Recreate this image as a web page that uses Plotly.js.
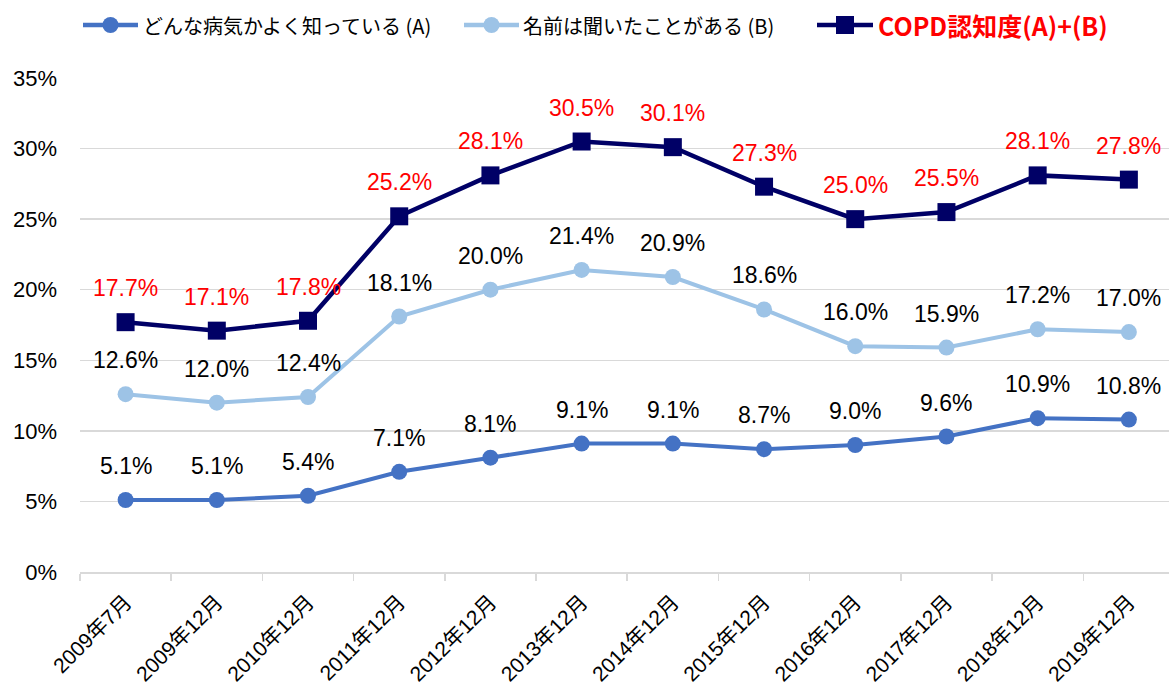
<!DOCTYPE html>
<html>
<head>
<meta charset="utf-8">
<script src="https://cdn.plot.ly/plotly-3.0.1.min.js"></script>
<style>html,body{margin:0;padding:0;background:#fff;}#chart{width:1169px;height:694px;}</style>
</head>
<body>
<div id="chart"></div>
<script>
const categories = ["2009年7月","2009年12月","2010年12月","2011年12月","2012年12月","2013年12月","2014年12月","2015年12月","2016年12月","2017年12月","2018年12月","2019年12月"];
const seriesA = [5.1,5.1,5.4,7.1,8.1,9.1,9.1,8.7,9.0,9.6,10.9,10.8];
const seriesB = [12.6,12.0,12.4,18.1,20.0,21.4,20.9,18.6,16.0,15.9,17.2,17.0];
const seriesCOPD = [17.7,17.1,17.8,25.2,28.1,30.5,30.1,27.3,25.0,25.5,28.1,27.8];
const nameA = "どんな病気かよく知っている (A)";
const nameB = "名前は聞いたことがある (B)";
const nameC = "<b>COPD認知度(A)+(B)</b>";

const colorA = '#4472C4', colorB = '#9DC3E6', colorC = '#000066';
const labelFont = "Arial, 'Liberation Sans', 'Noto Sans CJK JP', sans-serif";
const cjkFont = "'Noto Sans CJK JP', 'Liberation Sans', sans-serif";

const W = 1169, H = 694, ML = 80, MR = 0, MT = 78, MB = 122;
const PW = W - ML - MR, PH = H - MT - MB;
const px = v => (v - ML) / PW;
const py = v => (H - MB - v) / PH;

const traces = [
  {x: categories, y: seriesA, name: nameA, type: 'scatter', mode: 'lines+markers',
   line: {color: colorA, width: 4}, marker: {symbol: 'circle', size: 16, color: colorA}},
  {x: categories, y: seriesB, name: nameB, type: 'scatter', mode: 'lines+markers',
   line: {color: colorB, width: 4}, marker: {symbol: 'circle', size: 16, color: colorB}},
  {x: categories, y: seriesCOPD, name: nameC, type: 'scatter', mode: 'lines+markers',
   line: {color: colorC, width: 4.5}, marker: {symbol: 'square', size: 18, color: colorC}}
];

const annotations = [];
function addLabels(vals, color) {
  vals.forEach((v, i) => {
    annotations.push({x: categories[i], y: v, xref: 'x', yref: 'y', text: v.toFixed(1) + '%',
      showarrow: false, yshift: 34, font: {family: labelFont, size: 23, color: color}});
  });
}
addLabels(seriesA, '#000000');
addLabels(seriesB, '#000000');
addLabels(seriesCOPD, '#FF0000');

// custom legend (line sample with marker + text)
const legendY = 25;
const legendItems = [
  {x0: 83, x1: 138, color: colorA, sym: 'circle', text: nameA, tcolor: '#000000', tx: 141, size: 20},
  {x0: 464, x1: 519, color: colorB, sym: 'circle', text: nameB, tcolor: '#000000', tx: 521, size: 20},
  {x0: 817, x1: 873, color: colorC, sym: 'square', text: nameC, tcolor: '#FF0000', tx: 876, size: 25}
];
const shapes = [];
legendItems.forEach(it => {
  shapes.push({type: 'line', xref: 'paper', yref: 'paper', x0: px(it.x0), x1: px(it.x1),
    y0: py(legendY), y1: py(legendY), line: {color: it.color, width: 4.5}});
  const cx = px((it.x0 + it.x1) / 2), cy = py(legendY);
  const r = it.sym === 'circle' ? 8 : 9;
  shapes.push({type: it.sym === 'circle' ? 'circle' : 'rect', xref: 'paper', yref: 'paper',
    xsizemode: 'pixel', ysizemode: 'pixel', xanchor: cx, yanchor: cy,
    x0: -r, x1: r, y0: -r, y1: r, fillcolor: it.color, line: {color: it.color, width: 0}});
  annotations.push({xref: 'paper', yref: 'paper', x: px(it.tx), y: cy, xanchor: 'left',
    yanchor: 'middle', text: it.text, showarrow: false,
    font: {family: cjkFont, size: it.size, color: it.tcolor}});
});

const layout = {
  width: W, height: H,
  margin: {l: ML, r: MR, t: MT, b: MB},
  paper_bgcolor: '#ffffff', plot_bgcolor: '#ffffff',
  showlegend: false,
  xaxis: {type: 'category', range: [-0.5, 11.44], showgrid: false, showline: true,
    linecolor: '#d9d9d9', linewidth: 1.5, ticks: 'outside', tickson: 'boundaries',
    ticklen: 7, tickcolor: '#d9d9d9', tickwidth: 1.5, tickangle: -45, ticklabelstandoff: 8,
    tickfont: {family: labelFont, size: 21, color: '#000000'}, fixedrange: true},
  yaxis: {range: [0, 35], dtick: 5, ticksuffix: '%', showgrid: true, gridcolor: '#d9d9d9',
    gridwidth: 1.5, zeroline: false, showline: false, ticklabelstandoff: 22,
    tickfont: {family: labelFont, size: 22, color: '#000000'}, fixedrange: true},
  shapes: shapes,
  annotations: annotations
};

Plotly.newPlot('chart', traces, layout, {displayModeBar: false, staticPlot: true});
</script>
</body>
</html>
